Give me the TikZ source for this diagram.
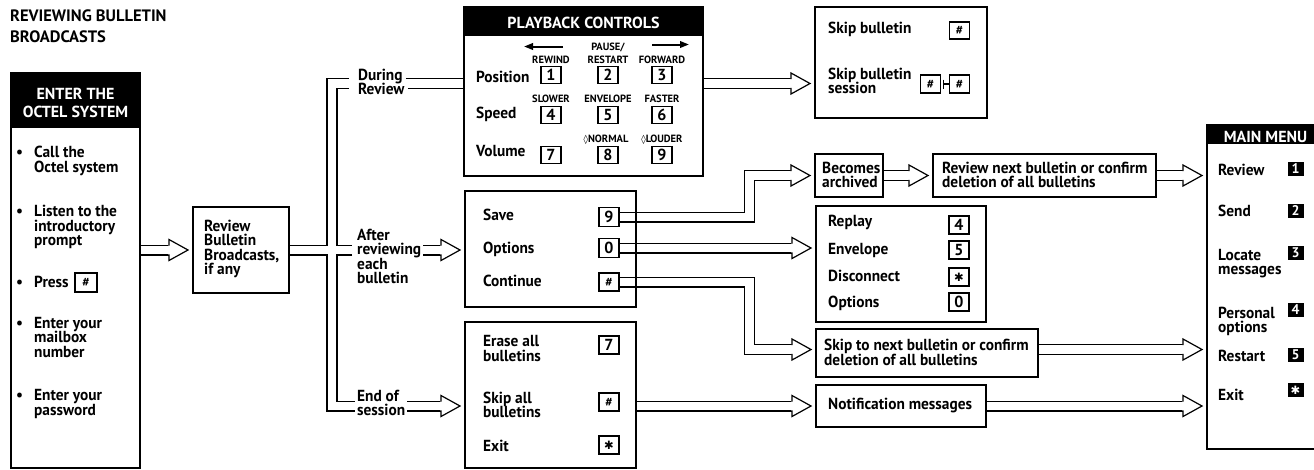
\documentclass[tikz,border=0pt]{standalone}
\usepackage{fontspec}
\setmainfont{PT Sans}
\newfontfamily\bodyf{PT Sans}[FakeStretch=0.96]
\newfontfamily\djv{DejaVu Sans}
\usetikzlibrary{arrows.meta,calc}
\pgfdeclarelayer{bg}
\pgfsetlayers{bg,main}
\newcommand\fb{\bodyf\fontsize{16}{14.5}\selectfont\bfseries\lineskiplimit=-20pt\relax}
\newcommand\fh{\fontsize{16}{18}\selectfont\bfseries\lineskiplimit=-20pt\relax}
\newcommand\ftitle{\fontsize{16.5}{21}\selectfont\bfseries\lineskiplimit=-20pt\relax}
\newcommand\fsm{\fontsize{10.5}{13}\selectfont\bfseries\lineskiplimit=-20pt\relax}
\newcommand\fk{\fontsize{16}{16}\selectfont\bfseries}
\newcommand\fbk{\fontsize{14}{14}\selectfont\bfseries}
\newcommand\st{\rule{0pt}{12pt}}
\newcommand\sth{\rule{0pt}{13pt}}
\newcommand\kh{{\fontsize{12.5}{12.5}\selectfont\#}}
\newcommand\kstar{{\djv\bfseries\fontsize{11.5}{11.5}\selectfont ✱}}
\newcommand\loz{{\djv\fontsize{9}{9}\selectfont ◊}}
% hollow double arrow: #1 start coordinate spec, #2 name of tip coordinate
\newcommand\harr[2]{%
  \path (#2) ++(-19,0) coordinate (#2h);
  \draw[shaft] (#1) -- (#2h);
  \headat{#2}}
\newcommand\headat[1]{%
  \path (#1) ++(-19,0) coordinate (#1h);
  \filldraw[headst] ($(#1h)+(-0.6,-4.9)$) -- ($(#1h)+(0,-4.9)$) -- ($(#1h)+(0,-10.5)$) -- (#1) -- ($(#1h)+(0,10.5)$) -- ($(#1h)+(0,4.9)$) -- ($(#1h)+(-0.6,4.9)$);}
\begin{document}
\begin{tikzpicture}[x=1pt,y=-1pt,
  box/.style={draw, line width=1.8pt, anchor=north west, inner sep=0pt, outer sep=0pt},
  hdr/.style={box, fill=black},
  txt/.style={anchor=north west, inner sep=0pt, align=left, font=\fb},
  htxt/.style={anchor=north, inner sep=0pt, align=center, font=\fh, text=white},
  key/.style={draw, line width=1.3pt, minimum width=20pt, minimum height=18pt, inner sep=0pt, font=\fk},
  bkey/.style={fill=black, text=white, minimum width=16pt, minimum height=14pt, inner sep=0pt, font=\fbk},
  sm/.style={inner sep=0pt, font=\fsm, align=center},
  shaft/.style={draw, line width=1.2pt, double=white, double distance=8.6pt, line join=miter},
  headst/.style={draw, fill=white, line width=1.2pt, line join=miter},
  jline/.style={line width=1.2pt, line join=miter},
  parrow/.style={line width=2pt, -{Triangle[length=9pt,width=6.5pt]}}]
\useasboundingbox (0,0) rectangle (1314,469);

% title
\node[txt, font=\ftitle] (title) at (10,8.7) {\sth REVIEWING BULLETIN\\BROADCASTS};

% enter box
\node[box, minimum width=129pt, minimum height=395pt] (enter) at (11,73) {};
\node[hdr, minimum width=129pt, minimum height=54pt] (enterhdr) at (11,73) {};
\node[htxt] (entert) at (75.5,86) {\sth ENTER THE\\OCTEL SYSTEM};
\node[txt] (b1) at (16,145.5) {\st•};
\node[txt] (i1) at (34,145.5) {\st Call the\\Octel system};
\node[txt] (b2) at (16,204.5) {\st•};
\node[txt] (i2) at (34,204.5) {\st Listen to the\\introductory\\prompt};
\node[txt] (b3) at (16,275) {\st•};
\node[txt] (i3) at (34,275) {\st Press};
\node[key, minimum width=22pt, minimum height=19pt] (kpress) at (86,282.5) {\kh};
\node[txt] (b4) at (16,316) {\st•};
\node[txt] (i4) at (34,316) {\st Enter your\\mailbox\\number};
\node[txt] (b5) at (16,388.5) {\st•};
\node[txt] (i5) at (34,388.5) {\st Enter your\\password};

% review box
\node[box, minimum width=96pt, minimum height=86pt] (review) at (193,207) {};
\node[txt] (reviewt) at (204,219) {\st Review\\Bulletin\\Broadcasts,\\if any};

% branch labels
\node[txt] (durlab) at (358,68) {\st During\\Review};
\node[txt] (aftlab) at (357,228) {\st After\\reviewing\\each\\bulletin};
\node[txt] (endlab) at (357,389) {\st End of\\session};

% playback controls
\node[box, minimum width=239pt, minimum height=169pt] (play) at (464,7) {};
\node[hdr, minimum width=239pt, minimum height=28pt] (playhdr) at (464,7) {};
\node[htxt] (playt) at (583.5,15) {\sth PLAYBACK CONTROLS};
\node[txt] (pos) at (476,70) {\st Position};
\node[txt] (spd) at (476,106.5) {\st Speed};
\node[txt] (vol) at (476,144.7) {\st Volume};
\node[key, minimum height=17pt] (k1) at (551,75) {1};
\node[key, minimum height=17pt] (k2) at (608,75) {2};
\node[key, minimum height=17pt] (k3) at (662,75) {3};
\node[key, minimum height=17pt] (k4) at (551,115) {4};
\node[key, minimum height=17pt] (k5) at (608,115) {5};
\node[key, minimum height=17pt] (k6) at (662,115) {6};
\node[key, minimum height=17pt] (k7) at (551,155) {7};
\node[key, minimum height=17pt] (k8) at (608,155) {8};
\node[key, minimum height=17pt] (k9) at (662,155) {9};
\node[sm, anchor=base] (lrew) at (551,63) {REWIND};
\node[sm, anchor=north] (lpause) at (608,41) {\rule{0pt}{9pt}PAUSE/\\RESTART};
\node[sm, anchor=base] (lfwd) at (662,63) {FORWARD};
\node[sm, anchor=base] (lslow) at (551,102) {SLOWER};
\node[sm, anchor=base] (lenv) at (608,102) {ENVELOPE};
\node[sm, anchor=base] (lfast) at (662,102) {FASTER};
\node[sm, anchor=base] (lnorm) at (606,142) {\loz NORMAL};
\node[sm, anchor=base] (lloud) at (662,142) {\loz LOUDER};
\coordinate (rwS) at (563,46.5);
\coordinate (rwE) at (524,46.5);
\coordinate (fwS) at (652,44.5);
\coordinate (fwE) at (689,44.5);
\draw[parrow] (rwS) -- (rwE);
\draw[parrow] (fwS) -- (fwE);

% skip box
\node[box, minimum width=172pt, minimum height=111pt] (skip) at (815,7) {};
\node[txt] (skb) at (828,21.3) {\st Skip bulletin};
\node[key, minimum height=17pt] (skk) at (959.5,30.5) {\kh};
\node[txt] (sks) at (828,67) {\st Skip bulletin\\session};
\node[key] (skA) at (930.5,84) {\kh};
\node[key] (skB) at (959.5,84) {\kh};
\draw[jline] ($(skA.east)+(2.5,-4.5)$) -- ($(skA.east)+(2.5,4.5)$);
\draw[jline] ($(skA.east)+(2.5,0)$) -- (skB.west);

% after box
\node[box, minimum width=171pt, minimum height=116pt] (after) at (465,191) {};
\node[txt] (save) at (483,208) {\st Save};
\node[txt] (opts) at (483,241) {\st Options};
\node[txt] (cont) at (483,274.7) {\st Continue};
\node[key, minimum height=19pt] (ks9) at (609,217) {9};
\node[key, minimum height=19pt] (ks0) at (609,248) {0};
\node[key] (ksh) at (609,282) {\kh};

% end of session box
\node[box, minimum width=171pt, minimum height=146pt] (endb) at (465,322) {};
\node[txt] (erase) at (483,334.7) {\st Erase all\\bulletins};
\node[txt] (skipall) at (483,391) {\st Skip all\\bulletins};
\node[txt] (exitt) at (483,439.7) {\st Exit};
\node[key] (ke7) at (609,345) {7};
\node[key] (keh) at (609,402) {\kh};
\node[key] (kes) at (609,445) {\kstar};

% becomes archived, review next
\node[box, minimum width=68pt, minimum height=43pt] (becomes) at (815,154) {};
\node[txt] (becomest) at (822,161) {\st Becomes\\archived};
\node[box, minimum width=223pt, minimum height=43pt] (revnext) at (933,154) {};
\node[txt] (revnextt) at (942,161) {\st Review next bulletin or confirm\\deletion of all bulletins};

% replay box
\node[box, minimum width=170pt, minimum height=116pt] (replay) at (816,206) {};
\node[txt] (rpl) at (828,214) {\st Replay};
\node[txt] (renv) at (828,242) {\st Envelope};
\node[txt] (rdisc) at (828,269) {\st Disconnect};
\node[txt] (ropt) at (828,295) {\st Options};
\node[key] (kr4) at (959,225) {4};
\node[key] (kr5) at (959,250) {5};
\node[key] (krs) at (959,277) {\kstar};
\node[key] (kr0) at (959,302) {0};

% skip next, notification
\node[box, minimum width=222pt, minimum height=48pt] (skipnext) at (816,329) {};
\node[txt] (skipnextt) at (824,338.5) {\st Skip to next bulletin or confirm\\deletion of all bulletins};
\node[box, minimum width=170pt, minimum height=42pt] (notif) at (816,385) {};
\node[txt] (notift) at (828,397) {\st Notification messages};

% main menu
\node[box, minimum width=112pt, minimum height=324pt] (main) at (1207,125) {};
\node[hdr, minimum width=112pt, minimum height=18pt] (mainhdr) at (1207,125) {};
\node[htxt] (maint) at (1265.5,129) {\sth MAIN MENU};
\node[txt] (mrev) at (1218,163) {\st Review};
\node[txt] (msend) at (1218,204.5) {\st Send};
\node[txt] (mloc) at (1218,248) {\st Locate\\messages};
\node[txt] (mpers) at (1218,306) {\st Personal\\options};
\node[txt] (mrest) at (1218,349) {\st Restart};
\node[txt] (mexit) at (1218,388.5) {\st Exit};
\node[bkey] (m1) at (1295.5,169) {1};
\node[bkey] (m2) at (1295.5,210.5) {2};
\node[bkey] (m3) at (1295.5,253) {3};
\node[bkey] (m4) at (1295.5,309.5) {4};
\node[bkey] (m5) at (1295.5,355) {5};
\node[bkey] (m6) at (1295.5,390) {\kstar};

% connectors
\begin{pgfonlayer}{bg}
\coordinate (yt1) at (0,78.6);
\coordinate (yt2) at (0,88.4);
\coordinate (ytc) at (0,83.5);
\coordinate (ym1) at (0,245.1);
\coordinate (ym2) at (0,254.9);
\coordinate (ymc) at (0,250);
\coordinate (yb1) at (0,401.1);
\coordinate (yb2) at (0,410.9);
\coordinate (ybc) at (0,406);
\coordinate (xo) at (327,0);
\coordinate (xi) at (337,0);
\coordinate (xb) at (749.5,0);
\coordinate (dl) at ($(durlab.west)+(-9,0)$);
\coordinate (al) at ($(aftlab.west)+(-5,0)$);
\coordinate (el) at ($(endlab.west)+(-2,0)$);
\coordinate (dr) at ($(durlab.east)+(1,0)$);
\coordinate (dr2) at ($(durlab.east)+(3,0)$);
% branch junction
\draw[jline] (dl |- yt1) -- (xo |- yt1) -- (xo |- ym1) -- (review.east |- ym1);
\draw[jline] (dl |- yt2) -- (xi |- yt2) -- (xi |- ym1) -- (al |- ym1);
\draw[jline] (review.east |- ym2) -- (xo |- ym2) -- (xo |- yb2) -- (el |- yb2);
\draw[jline] (al |- ym2) -- (xi |- ym2) -- (xi |- yb1) -- (el |- yb1);
\draw[jline] (dr |- yt1) -- (play.west |- yt1);
\draw[jline] (dr2 |- yt2) -- (play.west |- yt2);
% enter -> review
\coordinate (tRev) at ($(review.west)+(-5,0)$);
\harr{enter.east |- review.west}{tRev}
% after label -> after box
\coordinate (as) at ($(aftlab.east)+(2,0)$);
\coordinate (tAft) at ($(after.west |- ymc)+(-5,0)$);
\harr{as |- ymc}{tAft}
% end label -> end box
\coordinate (es) at ($(endlab.east)+(2,0)$);
\coordinate (tEnd) at ($(endb.west |- ybc)+(-5,0)$);
\harr{es |- ybc}{tEnd}
% playback -> skip
\coordinate (tSkip) at ($(skip.west |- ytc)+(-5,0)$);
\harr{play.east |- ytc}{tSkip}
% 9 -> becomes archived
\coordinate (tBec) at ($(becomes.west)+(-5,0)$);
\path (tBec) ++(-19,0) coordinate (tBech);
\draw[shaft] (ks9.east) -| (xb |- tBec) -- (tBech);
\headat{tBec}
% 0 -> replay
\coordinate (tRep) at ($(replay.west |- ks0.east)+(-5,0)$);
\harr{ks0.east}{tRep}
% # -> skip next
\coordinate (tSn) at ($(skipnext.west)+(-5,-3.5)$);
\path (tSn) ++(-19,0) coordinate (tSnh);
\draw[shaft] (ksh.east) -| (xb |- tSn) -- (tSnh);
\headat{tSn}
% end box -> notification
\coordinate (tNot) at ($(notif.west)+(-5,0)$);
\harr{endb.east |- notif.west}{tNot}
% becomes -> review next
\coordinate (tRn) at ($(revnext.west)+(-5,0)$);
\harr{becomes.east}{tRn}
% to main menu
\coordinate (tM1) at ($(main.west |- revnext.east)+(-5,0)$);
\harr{revnext.east}{tM1}
\coordinate (tM2) at ($(main.west |- tSn)+(-5,0)$);
\harr{skipnext.east |- tSn}{tM2}
\coordinate (tM3) at ($(main.west |- notif.east)+(-5,0)$);
\harr{notif.east}{tM3}
\end{pgfonlayer}
\end{tikzpicture}
\end{document}
